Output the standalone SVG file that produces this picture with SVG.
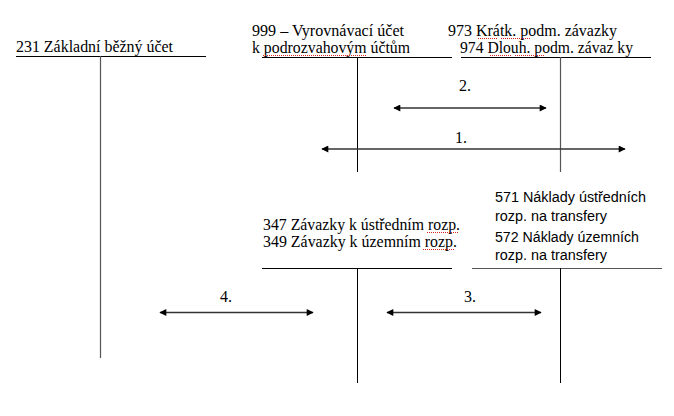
<svg xmlns="http://www.w3.org/2000/svg" width="674" height="416" viewBox="0 0 674 416">
<style>
.t{font-family:'Liberation Serif','DejaVu Serif',serif;font-size:16px;fill:#000}
.c{font-family:'Liberation Sans','DejaVu Sans',sans-serif;font-size:14px;fill:#000}
.ln{stroke:#000;stroke-width:1;fill:none}
.gl{stroke:#555;stroke-width:1.2;fill:none}
.ar{stroke:#333;stroke-width:1.5;fill:none;marker-start:url(#ah);marker-end:url(#ah)}
.sq{stroke:#d22;stroke-width:1;fill:none;stroke-dasharray:1 1}
</style>
<defs>
<marker id="ah" viewBox="0 0 10 10" refX="9" refY="5" markerWidth="8" markerHeight="7" markerUnits="userSpaceOnUse" orient="auto-start-reverse">
<path d="M0,0 L10,5 L0,10 z" fill="#000"/>
</marker>
</defs>
<rect width="674" height="416" fill="#fff"/>
<g id="acc231">
<text class="t" font-family="Liberation Serif, serif" x="16" y="52" textLength="157" lengthAdjust="spacingAndGlyphs">231 Základní běžný účet</text>
<line class="ln" x1="16" y1="56.5" x2="206" y2="56.5"/>
<line class="gl" x1="100.5" y1="56" x2="100.5" y2="358"/>
</g>
<g id="acc999">
<text class="t" x="252" y="36" textLength="152" lengthAdjust="spacingAndGlyphs">999 – Vyrovnávací účet</text>
<text class="t" x="252" y="53" textLength="158" lengthAdjust="spacingAndGlyphs">k podrozvahovým účtům</text>
<path class="sq" d="M263,55.5 H367"/>
<line class="ln" x1="262" y1="57.5" x2="452" y2="57.5"/>
<line class="ln" x1="357.5" y1="57" x2="357.5" y2="172"/>
</g>
<g id="acc973">
<text class="t" x="448" y="36" textLength="169" lengthAdjust="spacingAndGlyphs">973 Krátk. podm. závazky</text>
<text class="t" x="460" y="53" textLength="173" lengthAdjust="spacingAndGlyphs">974 Dlouh. podm. závaz ky</text>
<path class="sq" d="M478,38.5 H497 M501,38.5 H531"/>
<path class="sq" d="M490,55.5 H511 M515,55.5 H545"/>
<line class="ln" x1="461" y1="57.5" x2="651" y2="57.5"/>
<line class="gl" x1="560.5" y1="57" x2="560.5" y2="172"/>
</g>
<g id="acc347">
<text class="t" x="263" y="230" textLength="197" lengthAdjust="spacingAndGlyphs">347 Závazky k ústředním rozp.</text>
<text class="t" x="263" y="247" textLength="194" lengthAdjust="spacingAndGlyphs">349 Závazky k územním  rozp.</text>
<path class="sq" d="M427,232.5 H458 M423,249.5 H455"/>
<line class="ln" x1="262" y1="268.5" x2="452" y2="268.5"/>
<line class="ln" x1="357.5" y1="268" x2="357.5" y2="383"/>
</g>
<g id="acc571">
<text class="c" x="495" y="202" textLength="151" lengthAdjust="spacingAndGlyphs">571 Náklady ústředních</text>
<text class="c" x="495" y="221" textLength="112" lengthAdjust="spacingAndGlyphs">rozp. na transfery</text>
<text class="c" x="495" y="242" textLength="144" lengthAdjust="spacingAndGlyphs">572 Náklady územních</text>
<text class="c" x="495" y="260" textLength="112" lengthAdjust="spacingAndGlyphs">rozp. na transfery</text>
<line class="gl" x1="472" y1="268.5" x2="662" y2="268.5"/>
<line class="ln" x1="560.5" y1="268" x2="560.5" y2="383"/>
</g>
<g id="connectors">
<line class="ar" x1="394" y1="108" x2="546" y2="108"/>
<text class="t" x="459" y="91">2.</text>
<line class="ar" x1="322" y1="149" x2="625" y2="149"/>
<text class="t" x="455" y="143">1.</text>
<line class="ar" x1="160" y1="312.5" x2="313" y2="312.5"/>
<text class="t" x="220" y="302">4.</text>
<line class="ar" x1="387" y1="312.5" x2="541" y2="312.5"/>
<text class="t" x="464" y="302">3.</text>
</g>
</svg>
